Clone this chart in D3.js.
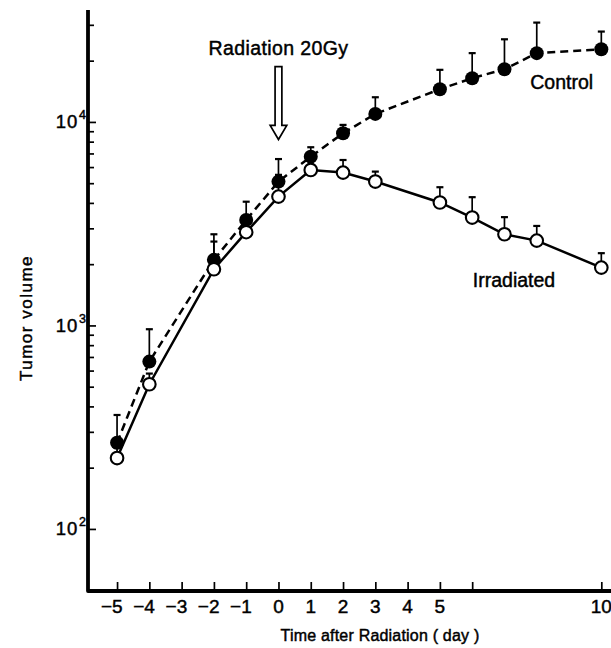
<!DOCTYPE html>
<html>
<head>
<meta charset="utf-8">
<script src="https://cdn.jsdelivr.net/npm/d3@7"></script>
<style>
  html, body { margin: 0; padding: 0; background: #fff; }
  svg { display: block; font-family: "Liberation Sans", Arial, Helvetica, sans-serif; }
  text { stroke: #000; stroke-width: 0.45px; }
</style>
</head>
<body>
<svg id="chart" width="611" height="648"></svg>
<script>
// ---- data ----
const days = [-5, -4, -2, -1, 0, 1, 2, 3, 5, 6, 7, 8, 10];
const control = [265, 664, 2100, 3300, 5090, 6750, 8800, 10950, 14480, 16400, 18150, 21780, 22750];
const controlUpper = [363, 958, 2805, 4055, 6570, 7510, 9670, 13220, 18030, 21780, 25470, 30770, 27800];
const irradiated = [223, 514, 1888, 2873, 4296, 5807, 5637, 5093, 4019, 3390, 2805, 2611, 1924];
const irradiatedUpper = [250, 580, 2583, 3200, 5495, 6400, 6500, 5700, 4777, 4268, 3405, 3082, 2265];

const xTickValues = [-5, -4, -3, -2, -1, 0, 1, 2, 3, 4, 5, 6, 10];
const xTickLabels = ["-5", "-4", "-3", "-2", "-1", "0", "1", "2", "3", "4", "5", "", "10"];
const yMajorTicks = [100, 1000, 10000];
const yMajorExponents = ["2", "3", "4"];
const yMinorTicks = [200, 300, 400, 500, 600, 700, 800, 900,
                     2000, 3000, 4000, 5000, 6000, 7000, 8000, 9000,
                     20000, 30000];

const xTitle = "Time after Radiation ( day )";
const yTitle = "Tumor volume";
const seriesNames = ["Control", "Irradiated"];
const annotationText = "Radiation 20Gy";
const arrowDay = 0;
const arrowTopValue = 18700;
const arrowTipValue = 8200;

// ---- layout ----
const svg = d3.select("#chart");
const axisX = 88, axisY = 591, rightEdge = 611, topEdge = 10;

const x = d3.scaleLinear().domain([-5.9, 10.3]).range([axisX, rightEdge]);
const y = d3.scaleLog().domain([Math.pow(10, 1.695), Math.pow(10, 4.55)]).range([axisY, topEdge]);

// axes lines
svg.append("path")
  .attr("d", `M${axisX},${topEdge} L${axisX},${axisY} L${rightEdge},${axisY}`)
  .attr("fill", "none").attr("stroke", "#000").attr("stroke-width", 3.8)
  .attr("stroke-linejoin", "round");

// y ticks (inward, right side)
const yMajorAxis = d3.axisRight(y).tickValues(yMajorTicks).tickSize(8).tickFormat("");
const yMinorAxis = d3.axisRight(y).tickValues(yMinorTicks).tickSize(6).tickFormat("");
[yMajorAxis, yMinorAxis].forEach(ax => {
  const g = svg.append("g").attr("transform", `translate(${axisX},0)`).call(ax);
  g.select(".domain").remove();
  g.selectAll("line").attr("stroke", "#000").attr("stroke-width", 1.7);
});

// y tick labels 10^n
yMajorTicks.forEach((v, i) => {
  const t = svg.append("text")
    .attr("x", 86).attr("y", y(v) + 6.5)
    .attr("text-anchor", "end")
    .attr("font-size", 18.5).attr("fill", "#000");
  t.append("tspan").text("10").attr("letter-spacing", 0.8);
  t.append("tspan").text(yMajorExponents[i]).attr("font-size", 12.5).attr("dy", -9).attr("dx", 1);
});

// x ticks (upward)
const xAxis = d3.axisTop(x).tickValues(xTickValues).tickSize(9).tickFormat("");
const gx = svg.append("g").attr("transform", `translate(0,${axisY})`).call(xAxis);
gx.select(".domain").remove();
gx.selectAll("line").attr("stroke", "#000").attr("stroke-width", 1.7);

// x tick labels: digit centred on the tick, minus sign hanging left
xTickValues.forEach((v, i) => {
  const lab = xTickLabels[i];
  if (!lab) return;
  const neg = lab.startsWith("-");
  const t = svg.append("text")
    .attr("y", 613).attr("font-size", 19).attr("fill", "#000");
  if (neg) {
    t.attr("x", x(v) + 5.6).attr("text-anchor", "end").text("\u2212" + lab.slice(1));
  } else {
    t.attr("x", x(v)).attr("text-anchor", "middle").text(lab);
  }
});

// axis titles
svg.append("text").attr("x", 380).attr("y", 641).attr("text-anchor", "middle")
  .attr("font-size", 16).attr("letter-spacing", 0.2).attr("fill", "#000").text(xTitle);
svg.append("text").attr("transform", `translate(32,318) rotate(-90)`)
  .attr("text-anchor", "middle").attr("font-size", 17).attr("letter-spacing", 1.5)
  .attr("fill", "#000").text(yTitle);

// ---- series ----
const ctrlData = days.map((d, i) => ({ d, v: control[i], u: controlUpper[i] }));
const irrData = days.map((d, i) => ({ d, v: irradiated[i], u: irradiatedUpper[i] }));
const line = d3.line().x(p => x(p.d)).y(p => y(p.v));

svg.append("path").datum(irrData).attr("d", line)
  .attr("fill", "none").attr("stroke", "#000").attr("stroke-width", 2.5);
svg.append("path").datum(ctrlData).attr("d", line)
  .attr("fill", "none").attr("stroke", "#000").attr("stroke-width", 2.5)
  .attr("stroke-dasharray", "8,5");

// error bars (upper only)
function errorBars(data) {
  const g = svg.append("g");
  g.selectAll("line.v").data(data).join("line")
    .attr("x1", p => x(p.d)).attr("x2", p => x(p.d))
    .attr("y1", p => y(p.v)).attr("y2", p => y(p.u))
    .attr("stroke", "#000").attr("stroke-width", 1.7);
  g.selectAll("line.c").data(data).join("line")
    .attr("x1", p => x(p.d) - 3.5).attr("x2", p => x(p.d) + 3.5)
    .attr("y1", p => y(p.u)).attr("y2", p => y(p.u))
    .attr("stroke", "#000").attr("stroke-width", 2.2);
}
errorBars(irrData);
errorBars(ctrlData);

svg.append("g").selectAll("circle").data(ctrlData).join("circle")
  .attr("cx", p => x(p.d)).attr("cy", p => y(p.v)).attr("r", 7)
  .attr("fill", "#000");
svg.append("g").selectAll("circle").data(irrData).join("circle")
  .attr("cx", p => x(p.d)).attr("cy", p => y(p.v)).attr("r", 6.3)
  .attr("fill", "#fff").attr("stroke", "#000").attr("stroke-width", 2.1);

// series labels
svg.append("text").attr("x", x(7.8)).attr("y", y(14500))
  .attr("font-size", 19.5).attr("fill", "#000").text(seriesNames[0]);
svg.append("text").attr("x", x(6.02)).attr("y", y(1545))
  .attr("font-size", 19.5).attr("fill", "#000").text(seriesNames[1]);

// annotation: hollow arrow + text
const ax0 = x(arrowDay), aTop = y(arrowTopValue), aTip = y(arrowTipValue);
const shaftHalf = 3.4, headHalf = 8.3, headLen = 14;
svg.append("path")
  .attr("d", `M${ax0 - shaftHalf},${aTop} L${ax0 + shaftHalf},${aTop} L${ax0 + shaftHalf},${aTip - headLen}
              L${ax0 + headHalf},${aTip - headLen} L${ax0},${aTip} L${ax0 - headHalf},${aTip - headLen}
              L${ax0 - shaftHalf},${aTip - headLen} Z`)
  .attr("fill", "#fff").attr("stroke", "#000").attr("stroke-width", 1.7)
  .attr("stroke-linejoin", "miter");
svg.append("text").attr("x", ax0).attr("y", 55).attr("text-anchor", "middle")
  .attr("font-size", 19.5).attr("letter-spacing", 0.4).attr("fill", "#000").text(annotationText);
</script>
</body>
</html>
